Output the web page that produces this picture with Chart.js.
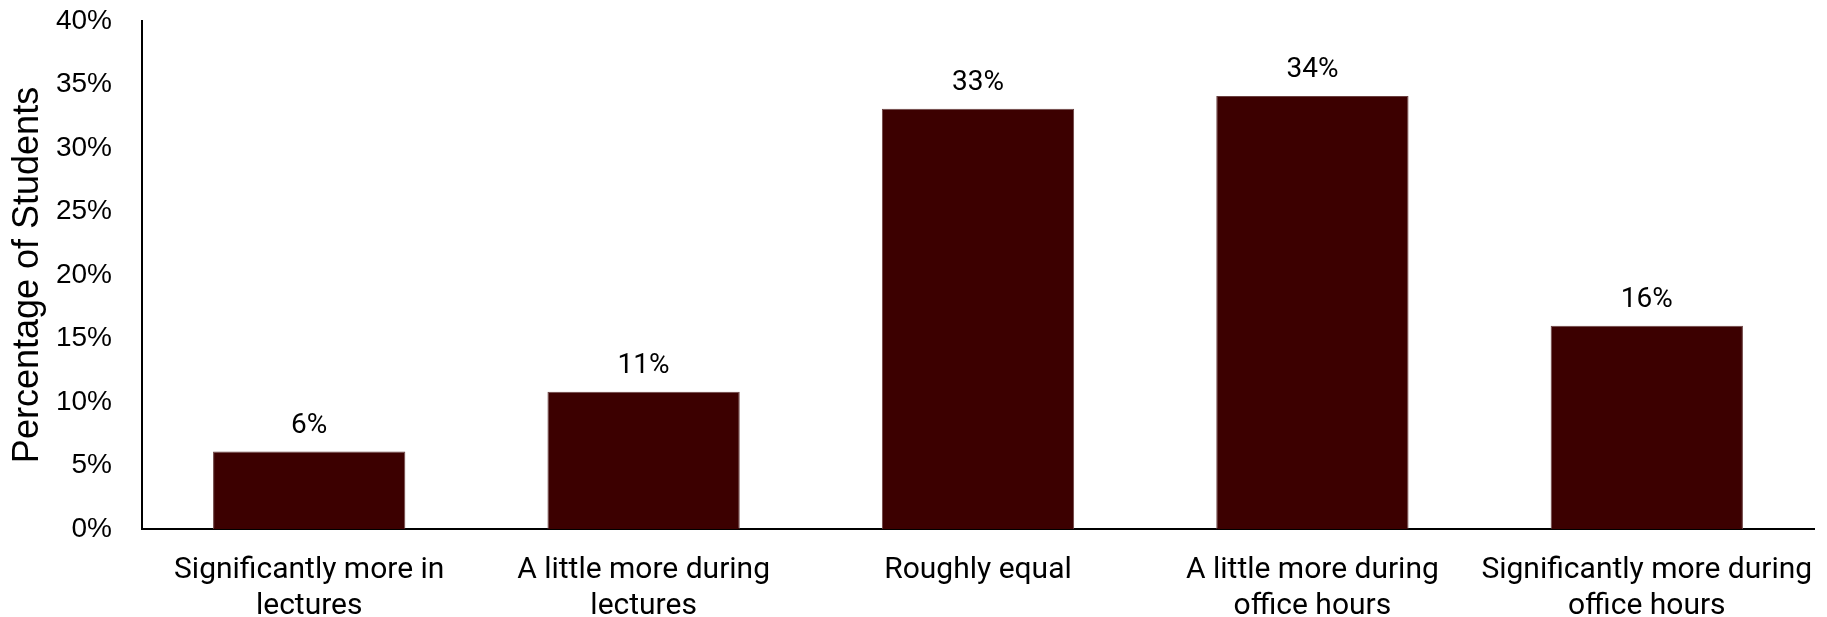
<!DOCTYPE html>
<html>
<head>
<meta charset="utf-8">
<script src="https://cdn.jsdelivr.net/npm/chart.js@4.4.0/dist/chart.umd.min.js"></script>
<style>
    html, body { margin: 0; padding: 0; background: #fff; }
    #wrap { width: 1827px; height: 617px; }
</style>
</head>
<body>
<div id="wrap"><canvas id="chart"></canvas></div>
<script>
// Datos del gráfico
const categories = [
    ["Significantly more in", "lectures"],
    ["A little more during", "lectures"],
    "Roughly equal",
    ["A little more during", "office hours"],
    ["Significantly more during", "office hours"]
];
const percentages = [6.1, 10.8, 33.1, 34.1, 16.0];
const valueLabels = ["6%", "11%", "33%", "34%", "16%"];
const yTicks = [0, 5, 10, 15, 20, 25, 30, 35, 40];

const LABEL_FONT = "Roboto, 'Liberation Sans', sans-serif";
const AXIS_FONT = "'Liberation Sans', Arial, sans-serif";

// Etiquetas encima de cada barra
const barLabels = {
    id: "barLabels",
    afterDatasetsDraw(chart) {
        const ctx = chart.ctx;
        const meta = chart.getDatasetMeta(0);
        ctx.save();
        ctx.font = "28px " + LABEL_FONT;
        ctx.fillStyle = "#000";
        ctx.textAlign = "center";
        ctx.textBaseline = "alphabetic";
        meta.data.forEach((bar, i) => {
            ctx.fillText(valueLabels[i], bar.x, bar.y - 19);
        });
        ctx.restore();
    }
};

new Chart(document.getElementById("chart"), {
    type: "bar",
    data: {
        labels: categories,
        datasets: [{
            data: percentages,
            backgroundColor: "#3c0000",
            borderColor: "#6a4040",
            borderWidth: 1,
            categoryPercentage: 1,
            barPercentage: 0.575
        }]
    },
    options: {
        responsive: true,
        maintainAspectRatio: false,
        animation: false,
        layout: { padding: { top: 0, right: 13, left: 0, bottom: 0 } },
        plugins: {
            legend: { display: false },
            tooltip: { enabled: false }
        },
        scales: {
            x: {
                grid: { display: false, drawTicks: false },
                border: { color: "#000", width: 2 },
                ticks: {
                    color: "#000",
                    font: { family: LABEL_FONT, size: 30 },
                    padding: 23,
                    maxRotation: 0,
                    autoSkip: false
                },
                afterFit(scale) {
                    scale.height = 88;
                    scale.paddingLeft = 0;
                    scale.paddingRight = 0;
                }
            },
            y: {
                min: 0,
                max: 40,
                afterBuildTicks(scale) {
                    scale.ticks = yTicks.map((v) => ({ value: v }));
                },
                grid: { display: false, drawTicks: false },
                border: { color: "#000", width: 2 },
                ticks: {
                    color: "#000",
                    font: { family: AXIS_FONT, size: 28 },
                    padding: 30,
                    callback: (v) => v + "%"
                },
                title: {
                    display: true,
                    text: "Percentage of Students",
                    color: "#000",
                    font: { family: AXIS_FONT, size: 36 },
                    padding: { top: 6, bottom: 0 }
                },
                afterFit(scale) {
                    scale.width = 142;
                    scale.paddingTop = 21;
                    scale.paddingBottom = 0;
                }
            }
        }
    },
    plugins: [barLabels]
});
</script>
</body>
</html>
